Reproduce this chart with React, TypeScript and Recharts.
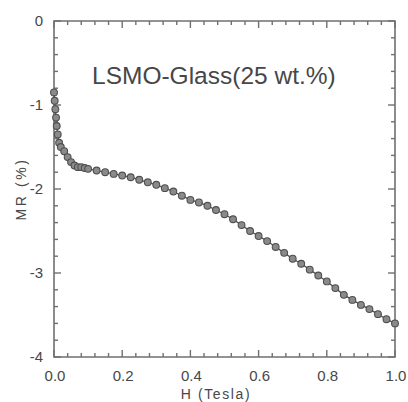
import React from 'react';
import { ComposedChart, Line, Scatter, XAxis, YAxis, ReferenceArea } from 'recharts';

// magnetic field H (Tesla) and magnetoresistance MR (%)
const fieldH = [
  0, 0.002, 0.004, 0.006, 0.008, 0.011, 0.015, 0.02, 0.03, 0.04, 0.05, 0.06, 0.07, 0.08, 0.09,
  0.1, 0.125, 0.15, 0.175, 0.2, 0.225, 0.25, 0.275, 0.3, 0.325, 0.35, 0.375, 0.4, 0.425, 0.45,
  0.475, 0.5, 0.525, 0.55, 0.575, 0.6, 0.625, 0.65, 0.675, 0.7, 0.725, 0.75, 0.775, 0.8, 0.825,
  0.85, 0.875, 0.9, 0.925, 0.95, 0.975, 1.0,
];
const mrPercent = [
  -0.85, -0.95, -1.05, -1.15, -1.25, -1.35, -1.45, -1.5, -1.55, -1.62, -1.68, -1.72, -1.74, -1.74, -1.75,
  -1.76, -1.78, -1.8, -1.82, -1.84, -1.86, -1.89, -1.92, -1.95, -1.99, -2.03, -2.08, -2.13, -2.16, -2.2,
  -2.25, -2.3, -2.36, -2.43, -2.5, -2.56, -2.62, -2.69, -2.76, -2.83, -2.89, -2.96, -3.03, -3.1, -3.18,
  -3.26, -3.32, -3.38, -3.43, -3.49, -3.55, -3.6,
];

const xTicks = [
  0, 0.04, 0.08, 0.12, 0.16, 0.2, 0.24, 0.28, 0.32, 0.36, 0.4, 0.44, 0.48, 0.52, 0.56, 0.6,
  0.64, 0.68, 0.72, 0.76, 0.8, 0.84, 0.88, 0.92, 0.96, 1.0,
];
const xMajor = [0, 0.2, 0.4, 0.6, 0.8, 1.0];
const xTickLabels = ['0.0', '0.2', '0.4', '0.6', '0.8', '1.0'];

const yTicks = [
  -4, -3.8, -3.6, -3.4, -3.2, -3, -2.8, -2.6, -2.4, -2.2, -2, -1.8, -1.6, -1.4, -1.2, -1,
  -0.8, -0.6, -0.4, -0.2, 0,
];
const yMajor = [-4, -3, -2, -1, 0];
const yTickLabels = ['-4', '-3', '-2', '-1', '0'];

const X_MIN = 0;
const X_MAX = 1;
const Y_MIN = -4;
const Y_MAX = 0;

const data = fieldH.map((h, i) => ({ h, mr: mrPercent[i] }));
// tick marks on the four sides of the frame, placed through the chart scales
const bottomMarks = xTicks.map((h) => ({ h, mr: Y_MIN }));
const topMarks = xTicks.map((h) => ({ h, mr: Y_MAX }));
const leftMarks = yTicks.map((mr) => ({ h: X_MIN, mr }));
const rightMarks = yTicks.map((mr) => ({ h: X_MAX, mr }));

const FONT = '"Liberation Sans", Arial, Helvetica, sans-serif';
const AXIS = '#707070';
const INK = '#474747';

const isMajor = (list: number[], v: number) => list.some((m) => Math.abs(m - v) < 1e-6);

const markShape = (side: 'b' | 't' | 'l' | 'r') => (p: any) => {
  const cx = Number(p.cx);
  const cy = Number(p.cy);
  const v = side === 'b' || side === 't' ? p.payload.h : p.payload.mr;
  const len = isMajor(side === 'b' || side === 't' ? xMajor : yMajor, v) ? 7 : 4;
  let d = '';
  if (side === 'b') d = `M${cx - 0.7},${cy - len}h1.4v${len}h-1.4Z`;
  if (side === 't') d = `M${cx - 0.7},${cy}h1.4v${len}h-1.4Z`;
  if (side === 'l') d = `M${cx},${cy - 0.7}h${len}v1.4h${-len}Z`;
  if (side === 'r') d = `M${cx - len},${cy - 0.7}h${len}v1.4h${-len}Z`;
  return <path d={d} fill={AXIS} stroke="none" />;
};

const renderBottomLabel = (props: any) => {
  const x = Number(props.x);
  const y = Number(props.y);
  const i = xMajor.findIndex((m) => Math.abs(m - Number(props.payload.value)) < 1e-6);
  return (
    <text x={x + 1} y={y + 24} textAnchor="middle" fontSize={15} fill={INK} fontFamily={FONT}>
      {i >= 0 ? xTickLabels[i] : ''}
    </text>
  );
};

const renderLeftLabel = (props: any) => {
  const x = Number(props.x);
  const y = Number(props.y);
  const i = yMajor.findIndex((m) => Math.abs(m - Number(props.payload.value)) < 1e-6);
  return (
    <text x={x - 11} y={y + 5} textAnchor="end" fontSize={15} fill={INK} fontFamily={FONT}>
      {i >= 0 ? yTickLabels[i] : ''}
    </text>
  );
};

export default function App() {
  return (
    <div style={{ position: 'fixed', left: 0, top: 0, width: 408, height: 402, background: '#fff' }}>
      <ComposedChart
        width={408}
        height={402}
        data={data}
        margin={{ top: 21, right: 13, bottom: 0, left: 0 }}
      >
        <XAxis
          dataKey="h"
          type="number"
          domain={[X_MIN, X_MAX]}
          ticks={xMajor}
          interval={0}
          height={45}
          tickSize={0}
          tickMargin={0}
          tickLine={false}
          axisLine={false}
          tick={renderBottomLabel}
        />
        <YAxis
          dataKey="mr"
          type="number"
          domain={[Y_MIN, Y_MAX]}
          ticks={yMajor}
          interval={0}
          width={54}
          tickSize={0}
          tickMargin={0}
          tickLine={false}
          axisLine={false}
          tick={renderLeftLabel}
        />
        <ReferenceArea x1={X_MIN} x2={X_MAX} y1={Y_MIN} y2={Y_MAX} fill="none" stroke={AXIS} strokeWidth={1.6} />
        <Scatter data={bottomMarks} dataKey="mr" shape={markShape('b')} isAnimationActive={false} />
        <Scatter data={topMarks} dataKey="mr" shape={markShape('t')} isAnimationActive={false} />
        <Scatter data={leftMarks} dataKey="mr" shape={markShape('l')} isAnimationActive={false} />
        <Scatter data={rightMarks} dataKey="mr" shape={markShape('r')} isAnimationActive={false} />
        <Line
          dataKey="mr"
          stroke="#505050"
          strokeWidth={1.3}
          dot={{ r: 3.4, fill: '#8a8a8a', stroke: '#4f4f4f', strokeWidth: 1.1 }}
          isAnimationActive={false}
        />
      </ComposedChart>
      <svg
        width={408}
        height={402}
        style={{ position: 'absolute', left: 0, top: 0, pointerEvents: 'none' }}
      >
        <text x={92} y={84} fontSize={24.5} fill={INK} fontFamily={FONT}>
          LSMO-Glass(25 wt.%)
        </text>
        <text x={216} y={399} textAnchor="middle" fontSize={14} letterSpacing={1.6} fill={INK} fontFamily={FONT}>
          H (Tesla)
        </text>
        <text
          x={26}
          y={189}
          textAnchor="middle"
          fontSize={14}
          letterSpacing={2.6}
          fill={INK}
          fontFamily={FONT}
          transform="rotate(-90 26 189)"
        >
          MR (%)
        </text>
      </svg>
    </div>
  );
}
